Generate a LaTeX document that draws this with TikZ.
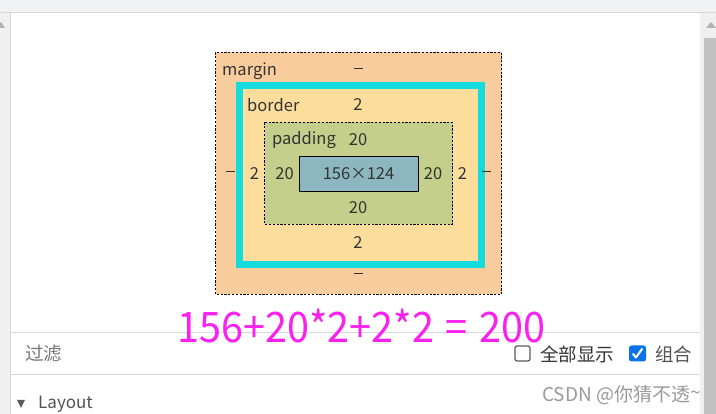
\documentclass[tikz,border=0pt]{standalone}
\usepackage{fontspec}
\setmainfont{Noto Sans CJK SC}
\definecolor{topbar}{HTML}{F1F2F4}
\definecolor{sepc}{HTML}{D5D7DA}
\definecolor{sidebar}{HTML}{F0F0F0}
\definecolor{thumb}{HTML}{C1C1C1}
\definecolor{marginc}{HTML}{F9CC9D}
\definecolor{borderc}{HTML}{14DCDC}
\definecolor{borderfill}{HTML}{FDDD9B}
\definecolor{paddingc}{HTML}{C3CF8A}
\definecolor{contentc}{HTML}{8CB6C0}
\definecolor{txt}{HTML}{333333}
\definecolor{magentac}{HTML}{FA20F0}
\definecolor{bluebox}{HTML}{0B72E7}
\definecolor{graytxt}{HTML}{777777}
\definecolor{wmark}{HTML}{9A9A9A}
\newcommand{\dashmark}{\textcolor{txt}{\rule[4.5pt]{9pt}{1.1pt}}}
\begin{document}
\begin{tikzpicture}[x=1pt,y=-1pt,
  lbl/.style={font=\fontsize{16.5}{16.5}\selectfont, text=txt, inner sep=0pt},
  dashbox/.style={draw=black, line width=0.8pt, dash pattern=on 2.2pt off 1.6pt},
  sepline/.style={draw=sepc, line width=1pt},
  ui/.style={font=\fontsize{18.5}{18.5}\selectfont, inner sep=0pt}]
\useasboundingbox (0,0) rectangle (716,414);
\fill[white] (0,0) rectangle (716,414);
% browser chrome
\fill[topbar] (0,0) rectangle (716,12);
\draw[sepline] (0,12.5) -- (716,12.5);
\fill[sidebar] (0,13) rectangle (10,414);
\draw[sepline] (10.5,13) -- (10.5,414);
\fill[gray!60] (-3,28) -- (1,22) -- (5,28) -- cycle;
\fill[sidebar] (700,13) rectangle (716,414);
\fill[thumb] (704,38) rectangle (716,414);
\fill[gray!60] (706,28) -- (711,22) -- (716,28) -- cycle;
% box model
\path[fill=marginc, dashbox] (215.5,52.5) rectangle (501.5,294.5);
\path[fill=borderfill, draw=borderc, line width=7pt] (239.5,85.5) rectangle (481.5,264.5);
\path[fill=paddingc, dashbox] (264.5,122.5) rectangle (452.5,224.5);
\node[draw=black, line width=0.8pt, fill=contentc, minimum width=119pt, minimum height=35pt, inner sep=0pt, lbl] (content) at (358.5,173.5) {156×124};
\node[lbl, anchor=west] (mlabel) at (222,71) {margin};
\node[lbl] (mtop) at (358.5,71) {\dashmark};
\node[lbl] (mbot) at (358.5,276) {\dashmark};
\node[lbl] (mleft) at (230.5,174) {\dashmark};
\node[lbl] (mright) at (486.5,174) {\dashmark};
\node[lbl, anchor=west] (blabel) at (247,105) {border};
\node[lbl] (btop) at (358,105) {2};
\node[lbl] (bbot) at (358,243) {2};
\node[lbl] (bleft) at (254.5,174) {2};
\node[lbl] (bright) at (462.5,174) {2};
\node[lbl, anchor=west] (plabel) at (272,140) {padding};
\node[lbl] (ptop) at (358,140) {20};
\node[lbl] (pbot) at (358,208) {20};
\node[lbl] (pleft) at (284.5,174) {20};
\node[lbl] (pright) at (433,174) {20};
% panel lines
\draw[sepline] (11,333) -- (700,333);
\draw[sepline] (11,374.5) -- (700,374.5);
% formula
\node[inner sep=0pt, text=magentac, font=\fontsize{40}{40}\selectfont] (formula) at (361.5,326) {\scalebox{0.99}[1.05]{156+20*2+2*2\hspace{0.3em}=\hspace{0.3em}200}};
% filter row
\node[ui, text=graytxt, anchor=west] (filter) at (25,354) {过滤};
\node[draw=txt!80, line width=1.2pt, rounded corners=2pt, minimum width=15pt, minimum height=15pt, inner sep=0pt] (cbox1) at (522.5,353.5) {};
\node[ui, text=txt, anchor=west] (showall) at (540,354) {全部显示};
\node[fill=bluebox, rounded corners=2.5pt, minimum width=17pt, minimum height=16pt, inner sep=0pt] (cbox2) at (637.5,353.5) {};
\draw[white, line width=2pt, line cap=round, line join=round] ([shift={(-4.5,0.5)}]cbox2.center) -- ([shift={(-1.5,4)}]cbox2.center) -- ([shift={(4.5,-4.5)}]cbox2.center);
\node[ui, text=txt!85, anchor=west] (group) at (655,354) {组合};
% layout section
\fill[txt!80] (17,400) -- (25,400) -- (21,408) -- cycle;
\node[ui, text=txt!85, anchor=west, font=\fontsize{17}{17}\selectfont] (layout) at (38,404) {Layout};
\node[ui, text=wmark, anchor=east, font=\fontsize{19}{19}\selectfont] (watermark) at (701,395) {CSDN @你猜不透\raisebox{2pt}{\textasciitilde}};
\end{tikzpicture}
\end{document}
